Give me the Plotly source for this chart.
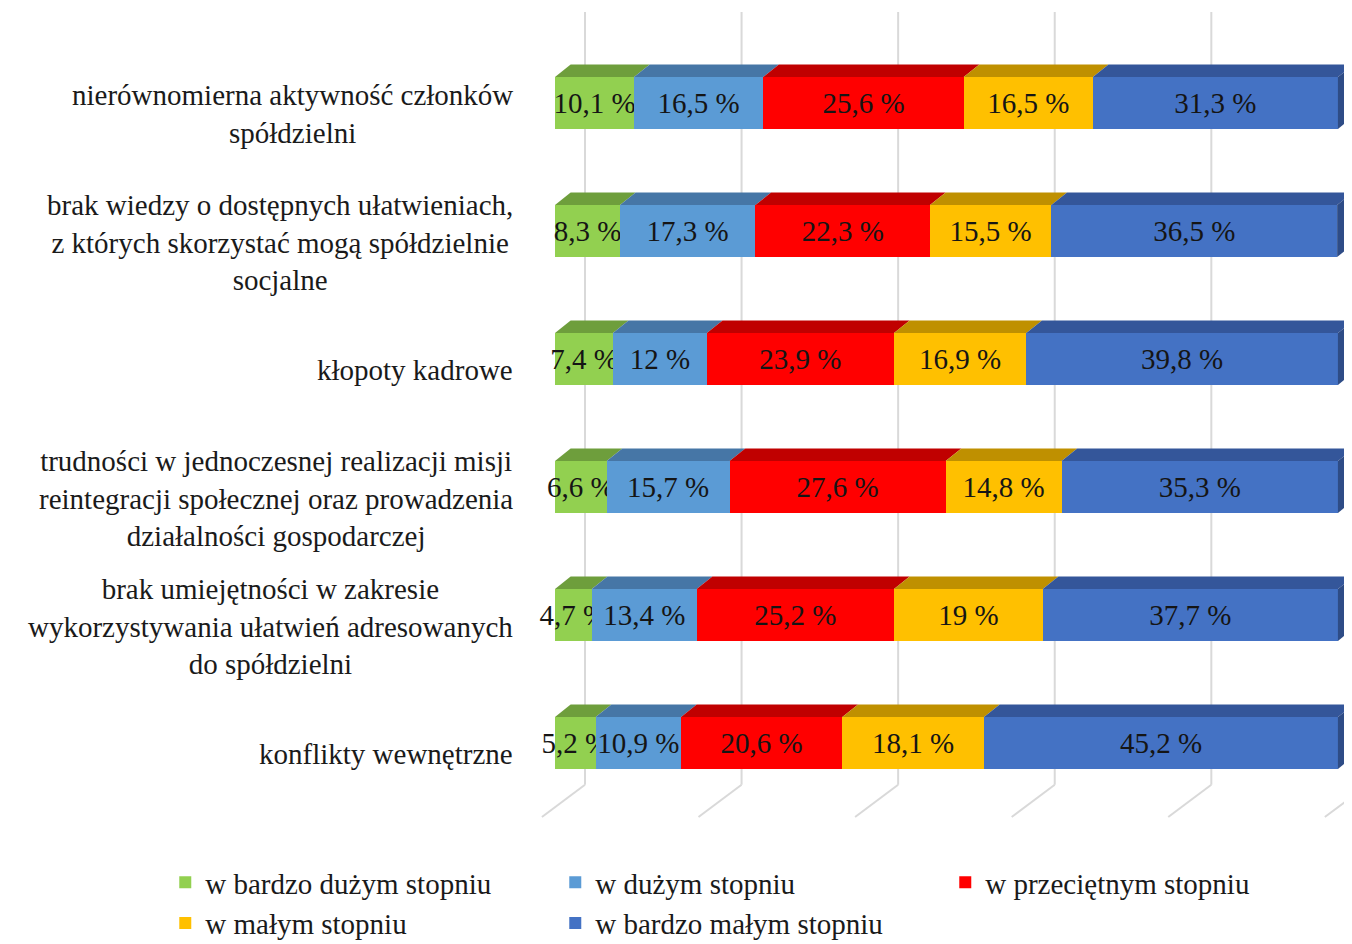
import plotly.graph_objects as go
import numpy as np

categories = [
    "nierównomierna aktywność członków<br>spółdzielni",
    "brak wiedzy o dostępnych ułatwieniach,<br>z których skorzystać mogą spółdzielnie<br>socjalne",
    "kłopoty kadrowe",
    "trudności w jednoczesnej realizacji misji<br>reintegracji społecznej oraz prowadzenia<br>działalności gospodarczej",
    "brak umiejętności w zakresie<br>wykorzystywania ułatwień adresowanych<br>do spółdzielni",
    "konflikty wewnętrzne",
]
cat_ids = ["c1", "c2", "c3", "c4", "c5", "c6"]

series_names = [
    "w bardzo dużym stopniu",
    "w dużym stopniu",
    "w przeciętnym stopniu",
    "w małym stopniu",
    "w bardzo małym stopniu",
]
bardzo_duzy = [10.1, 8.3, 7.4, 6.6, 4.7, 5.2]
duzy = [16.5, 17.3, 12.0, 15.7, 13.4, 10.9]
przecietny = [25.6, 22.3, 23.9, 27.6, 25.2, 20.6]
maly = [16.5, 15.5, 16.9, 14.8, 19.0, 18.1]
bardzo_maly = [31.3, 36.5, 39.8, 35.3, 37.7, 45.2]
series_values = [bardzo_duzy, duzy, przecietny, maly, bardzo_maly]

front_colors = ["#92D050", "#5B9BD5", "#FF0000", "#FFC000", "#4472C4"]
top_colors = ["#6E9E3C", "#4676A6", "#C00000", "#BF9000", "#34569A"]
side_color = "#2E4C86"
grid_ticks = [0, 20, 40, 60, 80, 100, 120]

FONT = "Liberation Serif"


def fmt(v):
    return f"{v:g}".replace(".", ",") + " %"


fig = go.Figure()
for name, vals, col in zip(series_names, series_values, front_colors):
    fig.add_trace(go.Bar(
        y=cat_ids, x=vals, name=name, orientation="h",
        marker=dict(color=col, line=dict(width=0)),
        text=[fmt(v) for v in vals], textposition="inside",
        insidetextanchor="middle", textangle=0, cliponaxis=False,
        textfont=dict(family=FONT, size=29, color="#151515"),
        hoverinfo="skip",
    ))

XR = 101.8          # axis maximum
x_off = 3.83        # back-plane offset of grid (axis units)

# 3D-like top faces and right side faces
half = 0.203
dx, dy = 2.0, 0.098
shapes = []

# back-plane grid lines and floor diagonals
for g in grid_ticks:
    xp = (g + x_off) / XR
    shapes.append(dict(type="line", xref="paper", yref="paper", x0=xp, x1=xp,
                       y0=0.029, y1=1.035, line=dict(color="#d9d9d9", width=2), layer="below"))
    xp2 = (g + x_off - 5.5) / XR
    shapes.append(dict(type="line", xref="paper", yref="paper", x0=xp, x1=xp2,
                       y0=0.029, y1=-0.013, line=dict(color="#d9d9d9", width=2), layer="below"))

cum = np.cumsum(np.array(series_values), axis=0)
for i in range(len(cat_ids)):
    left = 0.0
    for j in range(len(series_values)):
        right = cum[j][i]
        yt = i - half
        path = (f"M {left},{yt} L {right},{yt} L {right+dx},{yt-dy} "
                f"L {left+dx},{yt-dy} Z")
        shapes.append(dict(type="path", xref="x", yref="y", path=path,
                           fillcolor=top_colors[j], line=dict(width=0), layer="above"))
        left = right
    yb = i + half
    yt = i - half
    path = (f"M {left},{yt} L {left+dx},{yt-dy} L {left+dx},{yb-dy} L {left},{yb} Z")
    shapes.append(dict(type="path", xref="x", yref="y", path=path,
                       fillcolor=side_color, line=dict(width=0), layer="above"))

annotations = []
for cid, lab in zip(cat_ids, categories):
    annotations.append(dict(x=0, y=cid, xref="x", yref="y", text=lab, showarrow=False,
                            xanchor="right", yanchor="middle", align="center",
                            xshift=-40, yshift=-11,
                            font=dict(family=FONT, size=29, color="#1a1a1a")))

fig.update_layout(
    width=1344, height=936,
    margin=dict(l=547, r=0, t=31, b=137, autoexpand=False),
    paper_bgcolor="white", plot_bgcolor="white",
    barmode="stack", bargap=0.594,
    uniformtext=dict(minsize=29, mode="show"),
    xaxis=dict(range=[0, XR], showgrid=False, showticklabels=False, zeroline=False,
               showline=False, ticks=""),
    yaxis=dict(categoryorder="array", categoryarray=cat_ids, range=[5.5, -0.5],
               showticklabels=False, showgrid=False, zeroline=False, ticks=""),
    legend=dict(orientation="h", x=-0.489, xanchor="left", y=-0.065, yanchor="top",
                traceorder="normal", entrywidth=345, entrywidthmode="pixels",
                font=dict(family=FONT, size=29, color="#1a1a1a"),
                bgcolor="rgba(0,0,0,0)", tracegroupgap=0),
    shapes=shapes,
    annotations=annotations,
    showlegend=True,
)

fig.write_html("out.html")
